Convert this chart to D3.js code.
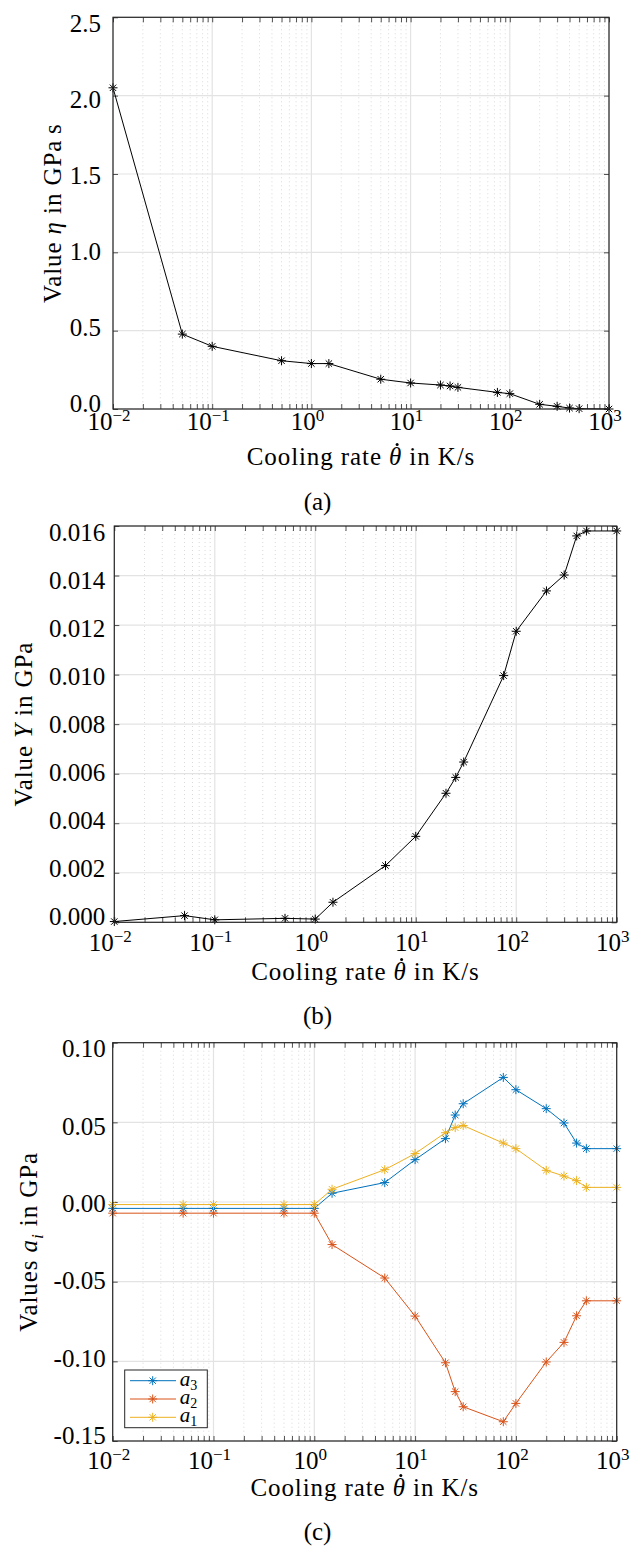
<!DOCTYPE html>
<html>
<head>
<meta charset="utf-8">
<script src="https://cdn.jsdelivr.net/npm/d3@7"></script>
<style>
  body { margin: 0; background: #fff; }
  text { font-family: 'Liberation Serif', serif; fill: #000; }
</style>
</head>
<body>
<svg id="chart" width="635" height="1547"></svg>
<script>
// cooling rates (K/s) shared by all three panels
var rates = [0.01, 0.05, 0.1, 0.5, 1, 1.5, 5, 10, 20, 25, 30, 75, 100, 200, 300, 400, 500, 1000];

// (a) viscosity eta in GPa s
var eta = [2.05, 0.478, 0.40, 0.308, 0.29, 0.29, 0.19, 0.166, 0.153, 0.147, 0.138, 0.106, 0.098, 0.03, 0.017, 0.006, 0.002, 0.0];

// (b) yield value Y in GPa
var yieldY = [0.00003, 0.00027, 0.0001, 0.00016, 0.00013, 0.00081, 0.00229, 0.00347, 0.00521, 0.00585, 0.00647,
              0.00996, 0.01175, 0.01338, 0.01402, 0.0156, 0.0158, 0.0158];

// (c) coefficients a_i in GPa
var a3 = [-0.004, -0.004, -0.004, -0.004, -0.004, 0.0055, 0.0122, 0.0266, 0.0398, 0.0546, 0.0617,
          0.0782, 0.0705, 0.0586, 0.0496, 0.037, 0.0335, 0.0335];
var a2 = [-0.007, -0.007, -0.007, -0.007, -0.007, -0.0267, -0.0477, -0.0716, -0.1009, -0.119, -0.1285,
          -0.1379, -0.1264, -0.1004, -0.0881, -0.0714, -0.062, -0.062];
var a1 = [-0.0016, -0.0016, -0.0016, -0.0016, -0.0016, 0.008, 0.0203, 0.0304, 0.0435, 0.0467, 0.048,
          0.037, 0.0335, 0.0199, 0.0163, 0.0134, 0.0092, 0.0092];

// ticks
var decades = [-2, -1, 0, 1, 2, 3];
var etaTicks = [0, 0.5, 1.0, 1.5, 2.0, 2.5];
var yTicks = [0, 0.002, 0.004, 0.006, 0.008, 0.010, 0.012, 0.014, 0.016];
var aTicks = [-0.15, -0.10, -0.05, 0, 0.05, 0.10];

var blue = '#0072BD', orange = '#D95319', yellow = '#EDB120';
var axisColor = '#262626';

var svg = d3.select('#chart');

var majorX = decades.map(function(d) { return Math.pow(10, d); });
var minorX = [];
decades.slice(0, -1).forEach(function(d) {
    for (var k = 2; k <= 9; k++) minorX.push(k * Math.pow(10, d));
});

function star(g, x, y, r, color) {
    var s = g.append('g').attr('transform', 'translate(' + x + ',' + y + ')')
        .attr('stroke', color).attr('stroke-width', 1);
    [0, 45, 90, 135].forEach(function(a) {
        var rad = a * Math.PI / 180;
        s.append('line')
            .attr('x1', -r * Math.cos(rad)).attr('y1', -r * Math.sin(rad))
            .attr('x2', r * Math.cos(rad)).attr('y2', r * Math.sin(rad));
    });
}

// rich text with tspans: parts = [{t, it, sub}]
function richText(sel, parts, size) {
    parts.forEach(function(p) {
        var ts = sel.append('tspan').text(p.t);
        if (p.it) ts.style('font-style', 'italic');
        if (p.sub) ts.attr('font-size', size * 0.7).attr('dy', size * 0.25);
        if (p.after) ts.attr('dy', -size * 0.25);
    });
    return sel;
}

var xTitle = [{t: 'Cooling rate '}, {t: '\u03B8', it: true}, {t: ' in K/s'}];

function drawPanel(p) {
    var xs = d3.scaleLog().domain([0.01, 1000]).range([p.l, p.r]);
    var ys = d3.scaleLinear().domain(p.yDomain).range([p.b, p.t]);
    var g = svg.append('g');

    // minor grid (dotted)
    g.selectAll('.minor').data(minorX).enter().append('line')
        .attr('x1', xs).attr('x2', xs).attr('y1', p.t).attr('y2', p.b)
        .attr('stroke', '#cfcfcf').attr('stroke-width', 0.8).attr('stroke-dasharray', '1,3');
    // major grid
    g.selectAll('.majx').data(majorX).enter().append('line')
        .attr('x1', xs).attr('x2', xs).attr('y1', p.t).attr('y2', p.b)
        .attr('stroke', '#e3e3e3').attr('stroke-width', 1.2);
    g.selectAll('.majy').data(p.yTicks).enter().append('line')
        .attr('x1', p.l).attr('x2', p.r).attr('y1', ys).attr('y2', ys)
        .attr('stroke', '#e3e3e3').attr('stroke-width', 1.2);

    // ticks, pointing inward
    var allX = majorX.concat(minorX);
    g.append('g').attr('transform', 'translate(0,' + p.b + ')')
        .call(d3.axisBottom(xs).tickValues(allX).tickSize(-5).tickFormat(''));
    g.append('g').attr('transform', 'translate(0,' + p.t + ')')
        .call(d3.axisTop(xs).tickValues(allX).tickSize(-5).tickFormat(''));
    g.append('g').attr('transform', 'translate(' + p.l + ',0)')
        .call(d3.axisLeft(ys).tickValues(p.yTicks).tickSize(-5).tickFormat(''));
    g.append('g').attr('transform', 'translate(' + p.r + ',0)')
        .call(d3.axisRight(ys).tickValues(p.yTicks).tickSize(-5).tickFormat(''));
    g.selectAll('.domain').remove();
    g.selectAll('.tick line').attr('stroke', axisColor).attr('stroke-width', 0.8);

    // series
    var line = d3.line().x(function(d) { return xs(d[0]); }).y(function(d) { return ys(d[1]); });
    p.series.forEach(function(s) {
        var pts = rates.map(function(r, i) { return [r, s.values[i]]; });
        g.append('path').datum(pts).attr('d', line)
            .attr('fill', 'none').attr('stroke', s.color).attr('stroke-width', 1);
        pts.forEach(function(d) { star(g, xs(d[0]), ys(d[1]), 4.5, s.color); });
    });

    // frame
    g.append('rect').attr('x', p.l).attr('y', p.t).attr('width', p.r - p.l).attr('height', p.b - p.t)
        .attr('fill', 'none').attr('stroke', axisColor).attr('stroke-width', 1.2);

    // x tick labels: 10^k
    decades.forEach(function(d) {
        var t = g.append('text').attr('x', xs(Math.pow(10, d)) - 4).attr('y', p.b + p.xLabDy)
            .attr('text-anchor', 'middle').attr('font-size', 25);
        t.append('tspan').text('10');
        t.append('tspan').text(d < 0 ? '\u2212' + (-d) : '' + d)
            .attr('font-size', 17).attr('dy', -9);
    });

    // y tick labels (pulled slightly toward the middle, as in the source)
    var mid = (p.t + p.b) / 2;
    g.selectAll('.ylab').data(p.yTicks).enter().append('text')
        .attr('x', p.l - p.yLabGap)
        .attr('y', function(v) { return mid + (ys(v) - mid) * 0.97; })
        .attr('dy', '0.35em').attr('text-anchor', 'end').attr('font-size', 25)
        .text(p.fmt);

    // axis titles
    var xt = richText(g.append('text').attr('x', (p.l + p.r) / 2).attr('y', p.xTitleY)
        .attr('text-anchor', 'middle').attr('font-size', 25).attr('letter-spacing', 0.9), xTitle, 25);
    // dot over theta (time derivative)
    var k = xTitle[0].t.length;
    var node = xt.node();
    var sx = node.getStartPositionOfChar(k).x, ex = node.getEndPositionOfChar(k).x;
    g.append('circle').attr('cx', (sx + ex) / 2 + 1.5).attr('cy', p.xTitleY - 20.5).attr('r', 1.5)
        .attr('fill', '#000');

    richText(g.append('text')
        .attr('transform', 'translate(' + p.yTitleX + ',' + mid + ') rotate(-90)')
        .attr('dy', '0.35em').attr('letter-spacing', 0.9)
        .attr('text-anchor', 'middle').attr('font-size', 25), p.yTitle, 25);

    // caption
    g.append('text').attr('x', 317.5).attr('y', p.capY).attr('text-anchor', 'middle')
        .attr('font-size', 25).text(p.caption);

    return {g: g, xs: xs, ys: ys};
}

function fmtMinus(f) {
    return function(v) { return f(v).replace('\u2212', '-'); };
}

drawPanel({
    l: 113, r: 609, t: 17.3, b: 409, yDomain: [0, 2.5], yTicks: etaTicks,
    fmt: d3.format('.1f'), yLabGap: 12, xLabDy: 21, xTitleY: 465, capY: 510,
    yTitleX: 52, caption: '(a)',
    yTitle: [{t: 'Value '}, {t: '\u03B7', it: true}, {t: ' in GPa\u2009s'}],
    series: [{values: eta, color: '#000'}]
});

drawPanel({
    l: 114.3, r: 616.7, t: 526, b: 922.3, yDomain: [0, 0.016], yTicks: yTicks,
    fmt: d3.format('.3f'), yLabGap: 9, xLabDy: 29, xTitleY: 980, capY: 1024,
    yTitleX: 23, caption: '(b)',
    yTitle: [{t: 'Value '}, {t: 'Y', it: true}, {t: ' in GPa'}],
    series: [{values: yieldY, color: '#000'}]
});

var pc = drawPanel({
    l: 112.7, r: 616.7, t: 1042.7, b: 1441, yDomain: [-0.15, 0.10], yTicks: aTicks,
    fmt: fmtMinus(d3.format('.2f')), yLabGap: 7, xLabDy: 28, xTitleY: 1496, capY: 1540,
    yTitleX: 28, caption: '(c)',
    yTitle: [{t: 'Values '}, {t: 'a', it: true}, {t: 'i', it: true, sub: true}, {t: ' in GPa', after: true}],
    series: [{values: a3, color: blue}, {values: a2, color: orange}, {values: a1, color: yellow}]
});

// legend for (c)
var legendItems = [{name: '3', color: blue}, {name: '2', color: orange}, {name: '1', color: yellow}];
var lg = pc.g.append('g').attr('transform', 'translate(124.7,1370)');
lg.append('rect').attr('width', 82.6).attr('height', 57.7)
    .attr('fill', '#fff').attr('stroke', axisColor).attr('stroke-width', 1);
legendItems.forEach(function(d, i) {
    var y = 10.7 + i * 18.3;
    lg.append('line').attr('x1', 5.3).attr('x2', 51.3).attr('y1', y).attr('y2', y)
        .attr('stroke', d.color).attr('stroke-width', 1);
    star(lg, 28, y, 4.5, d.color);
    var t = lg.append('text').attr('x', 55).attr('y', y + 5).attr('font-size', 21);
    t.append('tspan').text('a').style('font-style', 'italic');
    t.append('tspan').text(d.name).attr('font-size', 14).attr('dy', 4);
});
</script>
</body>
</html>
